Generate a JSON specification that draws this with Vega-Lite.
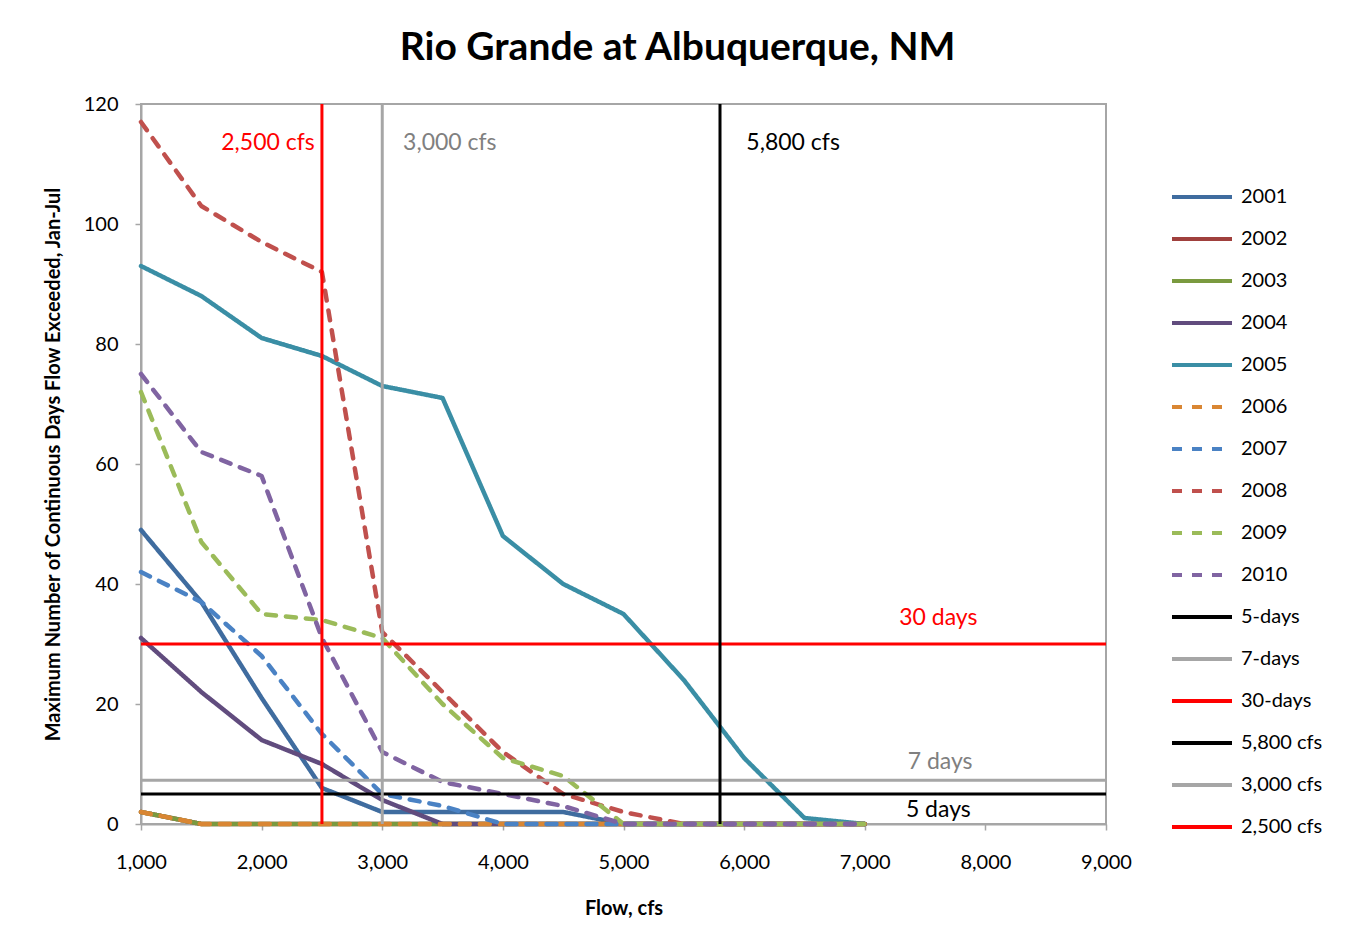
{
  "$schema": "https://vega.github.io/schema/vega-lite/v6.json",
  "width": 965,
  "height": 720,
  "autosize": {"type": "none"},
  "padding": {"left": 141, "top": 104, "right": 239, "bottom": 117},
  "background": "white",
  "title": {"text": "Rio Grande at Albuquerque, NM", "font": "Lato", "fontSize": 39, "fontWeight": "bold", "color": "black", "anchor": "middle", "dx": 54, "offset": 26},
  "config": {
    "view": {"stroke": "#A6A6A6", "strokeWidth": 2},
    "font": "Lato",
    "axis": {"domainColor": "#A6A6A6", "domainWidth": 2, "tickColor": "#A6A6A6", "tickWidth": 1.5, "tickSize": 6, "grid": false, "labelFont": "Lato", "labelFontSize": 20, "labelColor": "black", "titleFont": "Lato", "titleFontSize": 20, "titleFontWeight": "bold", "titleColor": "black", "labelFlush": false, "labelOverlap": false},
    "legend": {"orient": "none", "legendX": 1029, "legendY": 61, "symbolType": "stroke", "symbolSize": 3600, "symbolStrokeWidth": 4, "labelFont": "Lato", "labelFontSize": 20, "labelColor": "black", "rowPadding": 0, "labelOffset": 7}
  },
  "datasets": {
    "years": [
      {"series": "2001", "flow": 1000, "days": 49}, {"series": "2001", "flow": 1500, "days": 37}, {"series": "2001", "flow": 2000, "days": 21}, {"series": "2001", "flow": 2500, "days": 6}, {"series": "2001", "flow": 3000, "days": 2}, {"series": "2001", "flow": 3500, "days": 2}, {"series": "2001", "flow": 4000, "days": 2}, {"series": "2001", "flow": 4500, "days": 2}, {"series": "2001", "flow": 5000, "days": 0}, {"series": "2001", "flow": 5500, "days": 0}, {"series": "2001", "flow": 6000, "days": 0}, {"series": "2001", "flow": 6500, "days": 0}, {"series": "2001", "flow": 7000, "days": 0},
      {"series": "2002", "flow": 1000, "days": 2}, {"series": "2002", "flow": 1500, "days": 0}, {"series": "2002", "flow": 2000, "days": 0}, {"series": "2002", "flow": 2500, "days": 0}, {"series": "2002", "flow": 3000, "days": 0}, {"series": "2002", "flow": 3500, "days": 0}, {"series": "2002", "flow": 4000, "days": 0}, {"series": "2002", "flow": 4500, "days": 0}, {"series": "2002", "flow": 5000, "days": 0}, {"series": "2002", "flow": 5500, "days": 0}, {"series": "2002", "flow": 6000, "days": 0}, {"series": "2002", "flow": 6500, "days": 0}, {"series": "2002", "flow": 7000, "days": 0},
      {"series": "2003", "flow": 1000, "days": 2}, {"series": "2003", "flow": 1500, "days": 0}, {"series": "2003", "flow": 2000, "days": 0}, {"series": "2003", "flow": 2500, "days": 0}, {"series": "2003", "flow": 3000, "days": 0}, {"series": "2003", "flow": 3500, "days": 0}, {"series": "2003", "flow": 4000, "days": 0}, {"series": "2003", "flow": 4500, "days": 0}, {"series": "2003", "flow": 5000, "days": 0}, {"series": "2003", "flow": 5500, "days": 0}, {"series": "2003", "flow": 6000, "days": 0}, {"series": "2003", "flow": 6500, "days": 0}, {"series": "2003", "flow": 7000, "days": 0},
      {"series": "2004", "flow": 1000, "days": 31}, {"series": "2004", "flow": 1500, "days": 22}, {"series": "2004", "flow": 2000, "days": 14}, {"series": "2004", "flow": 2500, "days": 10}, {"series": "2004", "flow": 3000, "days": 4}, {"series": "2004", "flow": 3500, "days": 0}, {"series": "2004", "flow": 4000, "days": 0}, {"series": "2004", "flow": 4500, "days": 0}, {"series": "2004", "flow": 5000, "days": 0}, {"series": "2004", "flow": 5500, "days": 0}, {"series": "2004", "flow": 6000, "days": 0}, {"series": "2004", "flow": 6500, "days": 0}, {"series": "2004", "flow": 7000, "days": 0},
      {"series": "2005", "flow": 1000, "days": 93}, {"series": "2005", "flow": 1500, "days": 88}, {"series": "2005", "flow": 2000, "days": 81}, {"series": "2005", "flow": 2500, "days": 78}, {"series": "2005", "flow": 3000, "days": 73}, {"series": "2005", "flow": 3500, "days": 71}, {"series": "2005", "flow": 4000, "days": 48}, {"series": "2005", "flow": 4500, "days": 40}, {"series": "2005", "flow": 5000, "days": 35}, {"series": "2005", "flow": 5500, "days": 24}, {"series": "2005", "flow": 6000, "days": 11}, {"series": "2005", "flow": 6500, "days": 1}, {"series": "2005", "flow": 7000, "days": 0},
      {"series": "2006", "flow": 1000, "days": 2}, {"series": "2006", "flow": 1500, "days": 0}, {"series": "2006", "flow": 2000, "days": 0}, {"series": "2006", "flow": 2500, "days": 0}, {"series": "2006", "flow": 3000, "days": 0}, {"series": "2006", "flow": 3500, "days": 0}, {"series": "2006", "flow": 4000, "days": 0}, {"series": "2006", "flow": 4500, "days": 0}, {"series": "2006", "flow": 5000, "days": 0}, {"series": "2006", "flow": 5500, "days": 0}, {"series": "2006", "flow": 6000, "days": 0}, {"series": "2006", "flow": 6500, "days": 0}, {"series": "2006", "flow": 7000, "days": 0},
      {"series": "2007", "flow": 1000, "days": 42}, {"series": "2007", "flow": 1500, "days": 37}, {"series": "2007", "flow": 2000, "days": 28}, {"series": "2007", "flow": 2500, "days": 15}, {"series": "2007", "flow": 3000, "days": 5}, {"series": "2007", "flow": 3500, "days": 3}, {"series": "2007", "flow": 4000, "days": 0}, {"series": "2007", "flow": 4500, "days": 0}, {"series": "2007", "flow": 5000, "days": 0}, {"series": "2007", "flow": 5500, "days": 0}, {"series": "2007", "flow": 6000, "days": 0}, {"series": "2007", "flow": 6500, "days": 0}, {"series": "2007", "flow": 7000, "days": 0},
      {"series": "2008", "flow": 1000, "days": 117}, {"series": "2008", "flow": 1500, "days": 103}, {"series": "2008", "flow": 2000, "days": 97}, {"series": "2008", "flow": 2500, "days": 92}, {"series": "2008", "flow": 3000, "days": 32}, {"series": "2008", "flow": 3500, "days": 22}, {"series": "2008", "flow": 4000, "days": 12}, {"series": "2008", "flow": 4500, "days": 5}, {"series": "2008", "flow": 5000, "days": 2}, {"series": "2008", "flow": 5500, "days": 0}, {"series": "2008", "flow": 6000, "days": 0}, {"series": "2008", "flow": 6500, "days": 0}, {"series": "2008", "flow": 7000, "days": 0},
      {"series": "2009", "flow": 1000, "days": 72}, {"series": "2009", "flow": 1500, "days": 47}, {"series": "2009", "flow": 2000, "days": 35}, {"series": "2009", "flow": 2500, "days": 34}, {"series": "2009", "flow": 3000, "days": 31}, {"series": "2009", "flow": 3500, "days": 20}, {"series": "2009", "flow": 4000, "days": 11}, {"series": "2009", "flow": 4500, "days": 8}, {"series": "2009", "flow": 5000, "days": 0}, {"series": "2009", "flow": 5500, "days": 0}, {"series": "2009", "flow": 6000, "days": 0}, {"series": "2009", "flow": 6500, "days": 0}, {"series": "2009", "flow": 7000, "days": 0},
      {"series": "2010", "flow": 1000, "days": 75}, {"series": "2010", "flow": 1500, "days": 62}, {"series": "2010", "flow": 2000, "days": 58}, {"series": "2010", "flow": 2500, "days": 31}, {"series": "2010", "flow": 3000, "days": 12}, {"series": "2010", "flow": 3500, "days": 7}, {"series": "2010", "flow": 4000, "days": 5}, {"series": "2010", "flow": 4500, "days": 3}, {"series": "2010", "flow": 5000, "days": 0}, {"series": "2010", "flow": 5500, "days": 0}, {"series": "2010", "flow": 6000, "days": 0}, {"series": "2010", "flow": 6500, "days": 0}, {"series": "2010", "flow": 7000, "days": 0}
    ],
    "refs": [
      {"series": "5-days", "flow": 1000, "days": 5, "k": 0}, {"series": "5-days", "flow": 9000, "days": 5, "k": 1},
      {"series": "7-days", "flow": 1000, "days": 7.3, "k": 0}, {"series": "7-days", "flow": 9000, "days": 7.3, "k": 1},
      {"series": "30-days", "flow": 1000, "days": 30, "k": 0}, {"series": "30-days", "flow": 9000, "days": 30, "k": 1},
      {"series": "5,800 cfs", "flow": 5800, "days": 0, "k": 0}, {"series": "5,800 cfs", "flow": 5800, "days": 120, "k": 1},
      {"series": "3,000 cfs", "flow": 3000, "days": 0, "k": 0}, {"series": "3,000 cfs", "flow": 3000, "days": 120, "k": 1},
      {"series": "2,500 cfs", "flow": 2500, "days": 0, "k": 0}, {"series": "2,500 cfs", "flow": 2500, "days": 120, "k": 1}
    ],
    "redLabels": [{"label": "2,500 cfs", "flow": 2053, "days": 113.5}, {"label": "30 days", "flow": 7610, "days": 34.3}],
    "grayLabels": [{"label": "3,000 cfs", "flow": 3560, "days": 113.5}, {"label": "7 days", "flow": 7625, "days": 10.3}],
    "blackLabels": [{"label": "5,800 cfs", "flow": 6406, "days": 113.5}, {"label": "5 days", "flow": 7610, "days": 2.3}]
  },
  "encoding": {
    "x": {"field": "flow", "type": "quantitative", "scale": {"domain": [1000, 9000], "nice": false, "zero": false}, "axis": {"title": "Flow, cfs", "values": [1000, 2000, 3000, 4000, 5000, 6000, 7000, 8000, 9000], "format": ",.0f", "labelPadding": 22, "titlePadding": 26}},
    "y": {"field": "days", "type": "quantitative", "scale": {"domain": [0, 120], "nice": false}, "axis": {"title": "Maximum Number of Continuous Days Flow Exceeded, Jan-Jul", "values": [0, 20, 40, 60, 80, 100, 120], "labelPadding": 17, "titlePadding": 20}}
  },
  "layer": [
    {
      "data": {"name": "years"},
      "mark": {"type": "line", "strokeWidth": 4.5, "strokeCap": "round", "strokeJoin": "round"},
      "encoding": {
        "color": {"field": "series", "type": "nominal", "title": null,
          "scale": {"domain": ["2001", "2002", "2003", "2004", "2005", "2006", "2007", "2008", "2009", "2010", "5-days", "7-days", "30-days", "5,800 cfs", "3,000 cfs", "2,500 cfs"],
            "range": ["#3F6C9F", "#A0403D", "#7A9A3F", "#614C7E", "#3A8EA5", "#D98633", "#4A82C4", "#C0504D", "#9BBB59", "#8064A2", "#000000", "#A6A6A6", "#FF0000", "#000000", "#A6A6A6", "#FF0000"]}},
        "strokeDash": {"field": "series", "type": "nominal", "title": null,
          "scale": {"domain": ["2001", "2002", "2003", "2004", "2005", "2006", "2007", "2008", "2009", "2010", "5-days", "7-days", "30-days", "5,800 cfs", "3,000 cfs", "2,500 cfs"],
            "range": [[1, 0], [1, 0], [1, 0], [1, 0], [1, 0], [10, 10], [10, 10], [10, 10], [10, 10], [10, 10], [1, 0], [1, 0], [1, 0], [1, 0], [1, 0], [1, 0]]}}
      }
    },
    {
      "data": {"name": "refs"},
      "mark": {"type": "line", "strokeWidth": 3},
      "encoding": {
        "color": {"field": "series", "type": "nominal"},
        "strokeDash": {"field": "series", "type": "nominal"},
        "order": {"field": "k", "type": "quantitative"}
      }
    },
    {
      "data": {"name": "redLabels"},
      "mark": {"type": "text", "font": "Lato", "fontSize": 23, "color": "#FF0000", "align": "center", "baseline": "middle"},
      "encoding": {"text": {"field": "label"}}
    },
    {
      "data": {"name": "grayLabels"},
      "mark": {"type": "text", "font": "Lato", "fontSize": 23, "color": "#808080", "align": "center", "baseline": "middle"},
      "encoding": {"text": {"field": "label"}}
    },
    {
      "data": {"name": "blackLabels"},
      "mark": {"type": "text", "font": "Lato", "fontSize": 23, "color": "#000000", "align": "center", "baseline": "middle"},
      "encoding": {"text": {"field": "label"}}
    }
  ]
}
